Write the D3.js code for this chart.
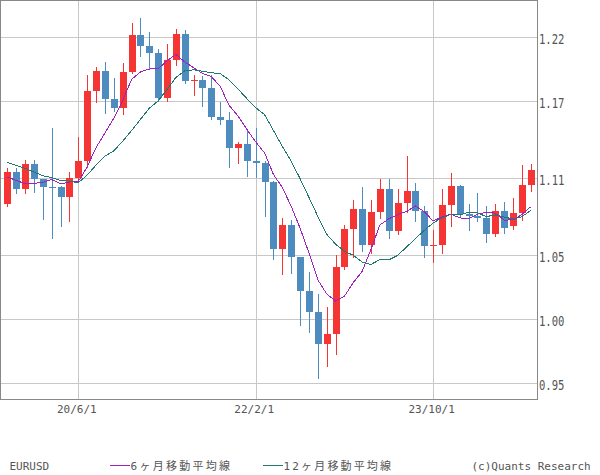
<!DOCTYPE html>
<html><head><meta charset="utf-8">
<script src="https://cdn.jsdelivr.net/npm/d3@7"></script>
<style>body{margin:0;background:#fff}svg{display:block}</style>
</head><body>
<svg id="chart" width="600" height="475"></svg>
<script>
const months = ["2019-10","2019-11","2019-12","2020-01","2020-02","2020-03","2020-04","2020-05","2020-06","2020-07","2020-08","2020-09","2020-10","2020-11","2020-12",
"2021-01","2021-02","2021-03","2021-04","2021-05","2021-06","2021-07","2021-08","2021-09","2021-10","2021-11","2021-12",
"2022-01","2022-02","2022-03","2022-04","2022-05","2022-06","2022-07","2022-08","2022-09","2022-10","2022-11","2022-12",
"2023-01","2023-02","2023-03","2023-04","2023-05","2023-06","2023-07","2023-08","2023-09","2023-10","2023-11","2023-12",
"2024-01","2024-02","2024-03","2024-04","2024-05","2024-06","2024-07","2024-08","2024-09"];
const open  = [1.0899,1.1152,1.1017,1.1213,1.1093,1.1032,1.1028,1.0955,1.1100,1.1234,1.1778,1.1936,1.1720,1.1646,1.1927,
1.2216,1.2136,1.2075,1.1730,1.2020,1.2227,1.1858,1.1870,1.1807,1.1580,1.1558,1.1338,
1.1370,1.1235,1.1217,1.1067,1.0545,1.0733,1.0484,1.0220,1.0054,0.9801,0.9883,1.0405,
1.0705,1.0863,1.0577,1.0839,1.1018,1.0690,1.0910,1.0998,1.0844,1.0573,1.0576,1.0888,
1.1039,1.0817,1.0804,1.0790,1.0667,1.0847,1.0727,1.0825,1.1048];
const high  = [1.1179,1.1176,1.1239,1.1239,1.1095,1.1495,1.1040,1.1147,1.1422,1.1908,1.1966,1.2011,1.1881,1.2003,1.2310,
1.2349,1.2243,1.2113,1.2150,1.2266,1.2254,1.1909,1.1900,1.1909,1.1692,1.1616,1.1386,
1.1482,1.1495,1.1233,1.1076,1.0786,1.0774,1.0488,1.0368,1.0198,1.0094,1.0497,1.0736,
1.0929,1.1033,1.0929,1.1095,1.1092,1.1012,1.1276,1.1065,1.0882,1.0695,1.1017,1.1140,
1.1046,1.0898,1.0981,1.0885,1.0895,1.0916,1.0948,1.1202,1.1214];
const low   = [1.0879,1.0981,1.0981,1.0992,1.0778,1.0636,1.0727,1.0766,1.1070,1.1185,1.1696,1.1612,1.1622,1.1603,1.1925,
1.2054,1.1952,1.1704,1.1704,1.1986,1.1847,1.1752,1.1664,1.1563,1.1524,1.1186,1.1222,
1.1121,1.1106,1.0806,1.0471,1.0349,1.0359,0.9952,0.9900,0.9536,0.9632,0.9730,1.0393,
1.0483,1.0533,1.0515,1.0788,1.0635,1.0662,1.0834,1.0766,1.0488,1.0448,1.0516,1.0723,
1.0796,1.0695,1.0768,1.0601,1.0650,1.0668,1.0706,1.0777,1.1001];
const close = [1.1152,1.1017,1.1213,1.1093,1.1032,1.1028,1.0955,1.1100,1.1234,1.1778,1.1936,1.1720,1.1646,1.1927,1.2216,
1.2136,1.2075,1.1730,1.2020,1.2227,1.1858,1.1870,1.1807,1.1580,1.1558,1.1338,1.1370,
1.1235,1.1217,1.1067,1.0545,1.0733,1.0484,1.0220,1.0054,0.9801,0.9883,1.0405,1.0705,
1.0863,1.0577,1.0839,1.1018,1.0690,1.0910,1.0998,1.0844,1.0573,1.0576,1.0888,1.1039,
1.0817,1.0804,1.0790,1.0667,1.0847,1.0713,1.0825,1.1048,1.1163];
const ma6  = [1.1109,1.1083,1.1057,1.1060,1.1068,1.1089,1.1056,1.1070,1.1074,1.1188,1.1339,1.1454,1.1569,1.1707,1.1871,
1.1930,1.1953,1.1955,1.2017,1.2067,1.2008,1.1963,1.1919,1.1894,1.1817,1.1669,1.1587,
1.1481,1.1383,1.1298,1.1129,1.1028,1.0880,1.0711,1.0517,1.0306,1.0196,1.0141,1.0178,
1.0285,1.0372,1.0545,1.0735,1.0782,1.0816,1.0839,1.0883,1.0839,1.0765,1.0798,1.0820,
1.0790,1.0783,1.0819,1.0834,1.0827,1.0773,1.0774,1.0815,1.0877];
const ma12 = [1.1223,1.1199,1.1177,1.1148,1.1120,1.1104,1.1083,1.1077,1.1065,1.1124,1.1203,1.1272,1.1313,1.1389,1.1472,
1.1559,1.1646,1.1704,1.1793,1.1887,1.1939,1.1947,1.1936,1.1924,1.1917,1.1868,1.1797,
1.1722,1.1651,1.1596,1.1473,1.1348,1.1234,1.1096,1.0950,1.0802,1.0662,1.0585,1.0529,
1.0498,1.0445,1.0426,1.0465,1.0462,1.0497,1.0562,1.0628,1.0692,1.0750,1.0790,1.0818,
1.0814,1.0833,1.0829,1.0800,1.0813,1.0796,1.0782,1.0799,1.0848];
const yTicks = [0.95, 1.00, 1.05, 1.11, 1.17, 1.22];
const xTickMonths = ["2020-06","2022-02","2023-10"];
const xTickLabels = ["20/6/1","22/2/1","23/10/1"];
const seriesNames = ["6ヶ月移動平均線","12ヶ月移動平均線"];
const instrument = "EURUSD";
const credit = "(c)Quants Research";

const W = 537, H = 399;
const upColor = "#f53434", downColor = "#4e8cc0";
const lineColors = ["#a020c0", "#207870"];
const mono = "'DejaVu Sans Mono','Noto Sans CJK JP',monospace";

const svg = d3.select("#chart");
svg.append("rect").attr("width",600).attr("height",475).attr("fill","#fff");

const x = d3.scalePoint().domain(months).range([7.34, 530.7]);
const y = d3.scaleLinear().domain([0.95, 1.22]).range([383, 37.4]).interpolate(d3.interpolateRound);
const yl = y.copy().interpolate(d3.interpolateNumber);

// grid
const grid = svg.append("g").attr("shape-rendering","crispEdges").attr("stroke","#c8c8c8").attr("stroke-width",1);
grid.selectAll("line.h").data(yTicks).join("line").attr("class","h")
  .attr("x1",0).attr("x2",W).attr("y1",d=>y(d)+0.5).attr("y2",d=>y(d)+0.5);
grid.selectAll("line.v").data(xTickMonths).join("line").attr("class","v")
  .attr("y1",0).attr("y2",H).attr("x1",d=>Math.round(x(d))+0.5).attr("x2",d=>Math.round(x(d))+0.5);

// candles
const candles = svg.append("g").attr("shape-rendering","crispEdges");
const cg = candles.selectAll("g").data(months.map((m,i)=>({m,o:open[i],h:high[i],l:low[i],c:close[i]}))).join("g");
cg.append("line")
  .attr("x1",d=>Math.round(x(d.m))+0.5).attr("x2",d=>Math.round(x(d.m))+0.5)
  .attr("y1",d=>y(d.h)).attr("y2",d=>y(d.l)+1)
  .attr("stroke",d=>d.c>=d.o?upColor:downColor).attr("stroke-width",1);
cg.append("rect")
  .attr("x",d=>Math.round(x(d.m))-3).attr("width",7)
  .attr("y",d=>y(Math.max(d.o,d.c)))
  .attr("height",d=>Math.max(1, y(Math.min(d.o,d.c))-y(Math.max(d.o,d.c))))
  .attr("fill",d=>d.c>=d.o?upColor:downColor);

// moving averages
const line = d3.line().x((d,i)=>x(months[i])).y(d=>yl(d));
[ma6, ma12].forEach((s,k)=>{
  svg.append("path").datum(s).attr("d",line).attr("fill","none")
    .attr("stroke",lineColors[k]).attr("stroke-width",1).attr("shape-rendering","crispEdges");
});

// frame
svg.append("rect").attr("x",0.5).attr("y",0.5).attr("width",W).attr("height",H)
  .attr("fill","none").attr("stroke","#888").attr("stroke-width",1).attr("shape-rendering","crispEdges");

// y axis labels
const ya = svg.append("g").attr("transform",`translate(${W},0)`)
  .call(d3.axisRight(y).tickValues(yTicks).tickSize(0).tickPadding(2).tickFormat(d3.format(".2f")));
ya.select(".domain").remove();
ya.selectAll("text").attr("dy","0.45em").attr("fill","#555")
  .style("font-family",mono).style("font-size","14px")
  .attr("textLength",25.5).attr("lengthAdjust","spacingAndGlyphs");

// x axis labels
const xa = svg.append("g").attr("transform",`translate(-2,${H})`)
  .call(d3.axisBottom(x).tickValues(xTickMonths).tickSize(0).tickPadding(6)
    .tickFormat(m=>xTickLabels[xTickMonths.indexOf(m)]));
xa.select(".domain").remove();
xa.selectAll("text").attr("fill","#555").style("font-family",mono).style("font-size","11px");

// legend
const lg = svg.append("g").style("font-family",mono).style("font-size","11px").attr("fill","#555");
lg.append("text").attr("x",9.5).attr("y",470).text(instrument);
const legX = [110, 263], legW = [99.5, 107.5];
seriesNames.forEach((n,k)=>{
  lg.append("line").attr("x1",legX[k]).attr("x2",legX[k]+20).attr("y1",465.5).attr("y2",465.5)
    .attr("stroke",lineColors[k]).attr("stroke-width",1).attr("shape-rendering","crispEdges");
  lg.append("text").attr("x",legX[k]+20.5).attr("y",470).text(n)
    .attr("textLength",legW[k]).attr("lengthAdjust","spacing");
});
lg.append("text").attr("x",471.5).attr("y",470).text(credit);
</script>
</body></html>
